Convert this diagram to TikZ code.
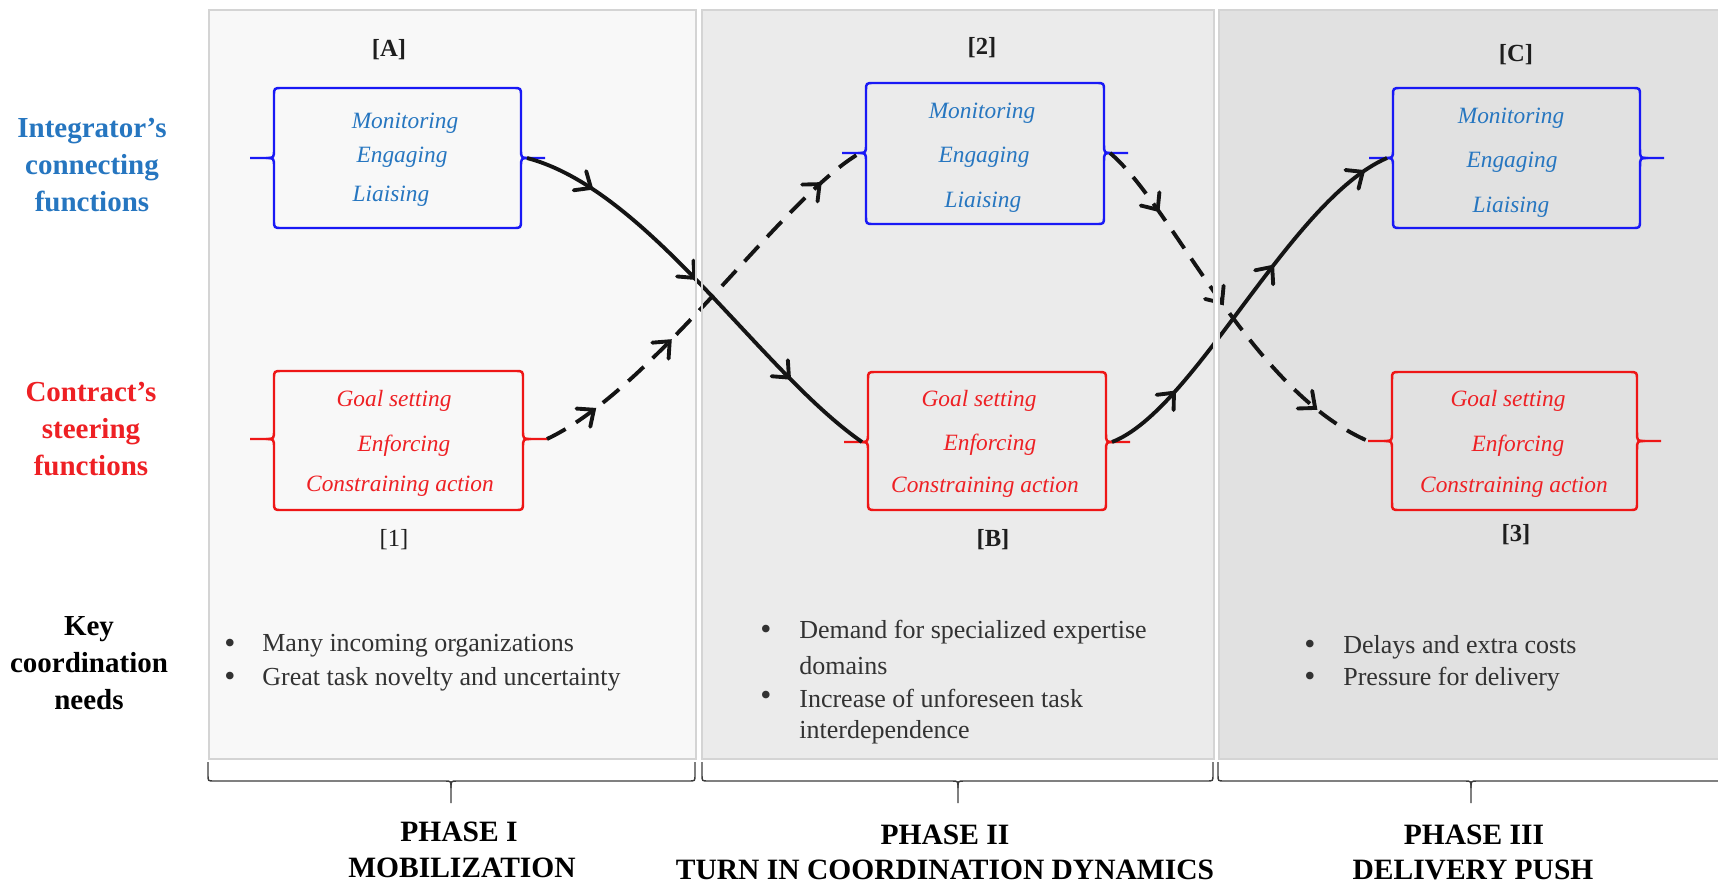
\documentclass[tikz,border=0pt]{standalone}
\usepackage{fontspec}
\setmainfont{Liberation Serif}
\usetikzlibrary{arrows.meta,decorations.markings}
\definecolor{bluetxt}{RGB}{38,118,192}
\definecolor{bluebox}{RGB}{25,25,245}
\definecolor{redtxt}{RGB}{238,32,36}
\definecolor{redbox}{RGB}{238,22,22}
\definecolor{panelA}{RGB}{248,248,248}
\definecolor{panelB}{RGB}{235,235,235}
\definecolor{panelC}{RGB}{225,225,225}
\definecolor{panelline}{RGB}{212,212,212}
\definecolor{bodytxt}{RGB}{50,50,50}
\definecolor{labeltxt}{RGB}{30,30,30}
\definecolor{bracecol}{RGB}{60,60,60}
\definecolor{flowcol}{RGB}{20,20,20}

\tikzset{
  boxline/.style={line width=1.4pt, line join=round},
  flow/.style={line width=2.2pt, draw=flowcol},
  dashflow/.style={flow, dash pattern=on 12pt off 7pt},
  midtip/.style={postaction={decorate,decoration={markings,mark=at position #1 with {\draw[solid,line width=2.2pt,draw=flowcol,line cap=round,line join=miter] (-7.5pt,6.5pt) -- (0pt,0pt) -- (-7.5pt,-6.5pt);}}}},
  sidelab/.style={font=\bfseries\fontsize{16.5}{21}\selectfont, align=center},
  tag/.style={font=\bfseries\fontsize{14}{16}\selectfont, text=labeltxt},
  tagreg/.style={font=\fontsize{14}{16}\selectfont, text=labeltxt},
  bluetext/.style={font=\itshape\fontsize{13.3}{16}\selectfont, text=bluetxt},
  redtext/.style={font=\itshape\fontsize{13.3}{16}\selectfont, text=redtxt},
  bul/.style={font=\fontsize{18}{20}\selectfont, text=bodytxt},
  btxt/.style={font=\fontsize{14.8}{18}\selectfont, text=bodytxt, anchor=west, inner sep=0pt},
  phase/.style={font=\bfseries\fontsize{16.8}{20}\selectfont, text=black},
  panelbrace/.style={draw=bracecol, line width=0.8pt},
  panelrule/.style={draw=panelline, line width=1.1pt},
}

% #1 name, #2 x1, #3 y1, #4 x2, #5 y2, #6 ym, #7 colour
\newcommand\brbox[7]{%
  \draw[boxline,#7] ({#2-24},#6) -- ({#2-8},#6) .. controls (#2,#6) .. (#2,{#6-9}) -- (#2,{#3+8}) .. controls (#2,#3) .. ({#2+8},#3) -- ({#4-8},#3) .. controls (#4,#3) .. (#4,{#3+8}) -- (#4,{#6-9}) .. controls (#4,#6) .. ({#4+8},#6) -- ({#4+24},#6);
  \draw[boxline,#7] ({#2-8},#6) .. controls (#2,#6) .. (#2,{#6+9}) -- (#2,{#5-8}) .. controls (#2,#5) .. ({#2+8},#5) -- ({#4-8},#5) .. controls (#4,#5) .. (#4,{#5-8}) -- (#4,{#6+9}) .. controls (#4,#6) .. ({#4+8},#6);
  \coordinate (#1-w) at ({#2-24},#6);
  \coordinate (#1-wc) at ({#2-6},#6);
  \coordinate (#1-ec) at ({#4+6},#6);
  \coordinate (#1-e) at ({#4+24},#6);
}

% #1 x1, #2 xm, #3 x2
\newcommand\phbrace[3]{%
  \draw[panelbrace] (#1,762) -- (#1,775) .. controls (#1,781) .. ({#1+6},781) -- ({#2-6},781) .. controls (#2,781) .. (#2,788) -- (#2,803);
  \draw[panelbrace] (#3,762) -- (#3,775) .. controls (#3,781) .. ({#3-6},781) -- ({#2+6},781) .. controls (#2,781) .. (#2,788);
}

\begin{document}
\begin{tikzpicture}[x=0.02cm,y=-0.02cm]
\useasboundingbox (0,0) rectangle (1718,886);
\fill[white] (0,0) rectangle (1718,886);

% panels
\filldraw[fill=panelA,draw=panelline,line width=1.1pt] (209,10) rectangle (696,759);
\filldraw[fill=panelB,draw=panelline,line width=1.1pt] (702,10) rectangle (1214,759);
\filldraw[fill=panelC,draw=panelline,line width=1.1pt] (1219,10) rectangle (1730,759);

% side labels
\node[sidelab, text=bluetxt] (intlab) at (92,165) {Integrator’s\\connecting\\functions};
\node[sidelab, text=redtxt] (conlab) at (91,429) {Contract’s\\steering\\functions};
\node[sidelab, text=black] (keylab) at (89,663) {Key\\coordination\\needs};

% boxes
\brbox{A}{274}{88}{521}{228}{158}{bluebox}
\brbox{I}{274}{371}{523}{510}{439}{redbox}
\brbox{II}{866}{83}{1104}{224}{153}{bluebox}
\brbox{B}{868}{372}{1106}{510}{442}{redbox}
\brbox{C}{1393}{88}{1640}{228}{158}{bluebox}
\brbox{III}{1392}{372}{1637}{510}{441}{redbox}

% tags
\node[tag] (tA) at (389,50) {[A]};
\node[tag] (t2) at (982,48) {[2]};
\node[tag] (tC) at (1516,55) {[C]};
\node[tagreg] (t1) at (394,540) {[1]};
\node[tag] (tB) at (993,540) {[B]};
\node[tag] (t3) at (1516,535) {[3]};

% box texts
\node[bluetext] (A1) at (405,123) {Monitoring};
\node[bluetext] (A2) at (402,157) {Engaging};
\node[bluetext] (A3) at (391,196) {Liaising};
\node[redtext] (I1) at (394,401) {Goal setting};
\node[redtext] (I2) at (404,446) {Enforcing};
\node[redtext] (I3) at (400,486) {Constraining action};
\node[bluetext] (II1) at (982,113) {Monitoring};
\node[bluetext] (II2) at (984,157) {Engaging};
\node[bluetext] (II3) at (983,202) {Liaising};
\node[redtext] (B1) at (979,401) {Goal setting};
\node[redtext] (B2) at (990,445) {Enforcing};
\node[redtext] (B3) at (985,487) {Constraining action};
\node[bluetext] (C1) at (1511,118) {Monitoring};
\node[bluetext] (C2) at (1512,162) {Engaging};
\node[bluetext] (C3) at (1511,207) {Liaising};
\node[redtext] (III1) at (1508,401) {Goal setting};
\node[redtext] (III2) at (1518,446) {Enforcing};
\node[redtext] (III3) at (1514,487) {Constraining action};

% flows
\draw[flow, midtip=0.16, midtip=0.47, midtip=0.78] (A-ec) .. controls (648,190) and (760,371) .. (B-wc);
\draw[dashflow, midtip=0.13, midtip=0.37, midtip=0.88] (I-e) .. controls (655,388) and (782,198) .. (II-wc);
\draw[dashflow, midtip=0.19, midtip=0.48, midtip=0.84] (II-ec) .. controls (1172,205) and (1250,390) .. (III-w);
\draw[flow, midtip=0.2, midtip=0.6, midtip=0.93] (B-ec) .. controls (1195,410) and (1290,200) .. (C-wc);

% panel separators over the flows
\draw[panelrule] (696,10) -- (696,759) (702,10) -- (702,759);
\fill[white] (1214.6,10) rectangle (1218.4,759);
\draw[panelrule] (1214,10) -- (1214,759) (1219,10) -- (1219,759);

% bullets
\node[bul] (p1a) at (230,646) {•};
\node[btxt] (q1a) at (262,646) {Many incoming organizations};
\node[bul] (p1b) at (230,679) {•};
\node[btxt] (q1b) at (262,679) {Great task novelty and uncertainty};
\node[bul] (p2a) at (766,632) {•};
\node[btxt] (q2a) at (799,632) {Demand for specialized expertise};
\node[btxt] (q2b) at (799,666) {domains};
\node[bul] (p2c) at (766,698) {•};
\node[btxt] (q2c) at (799,698) {Increase of unforeseen task};
\node[btxt] (q2d) at (799,732) {interdependence};
\node[bul] (p3a) at (1310,647) {•};
\node[btxt] (q3a) at (1343,647) {Delays and extra costs};
\node[bul] (p3b) at (1310,679) {•};
\node[btxt] (q3b) at (1343,679) {Pressure for delivery};

% phase braces
\phbrace{208}{451}{695}
\phbrace{702}{958}{1213}
\phbrace{1218}{1471}{1730}

% phase labels
\node[phase] (ph1a) at (459,832) {PHASE I};
\node[phase] (ph1b) at (462,868) {MOBILIZATION};
\node[phase] (ph2a) at (945,835) {PHASE II};
\node[phase] (ph2b) at (945,870) {TURN IN COORDINATION DYNAMICS};
\node[phase] (ph3a) at (1474,835) {PHASE III};
\node[phase] (ph3b) at (1473,870) {DELIVERY PUSH};
\end{tikzpicture}
\end{document}
